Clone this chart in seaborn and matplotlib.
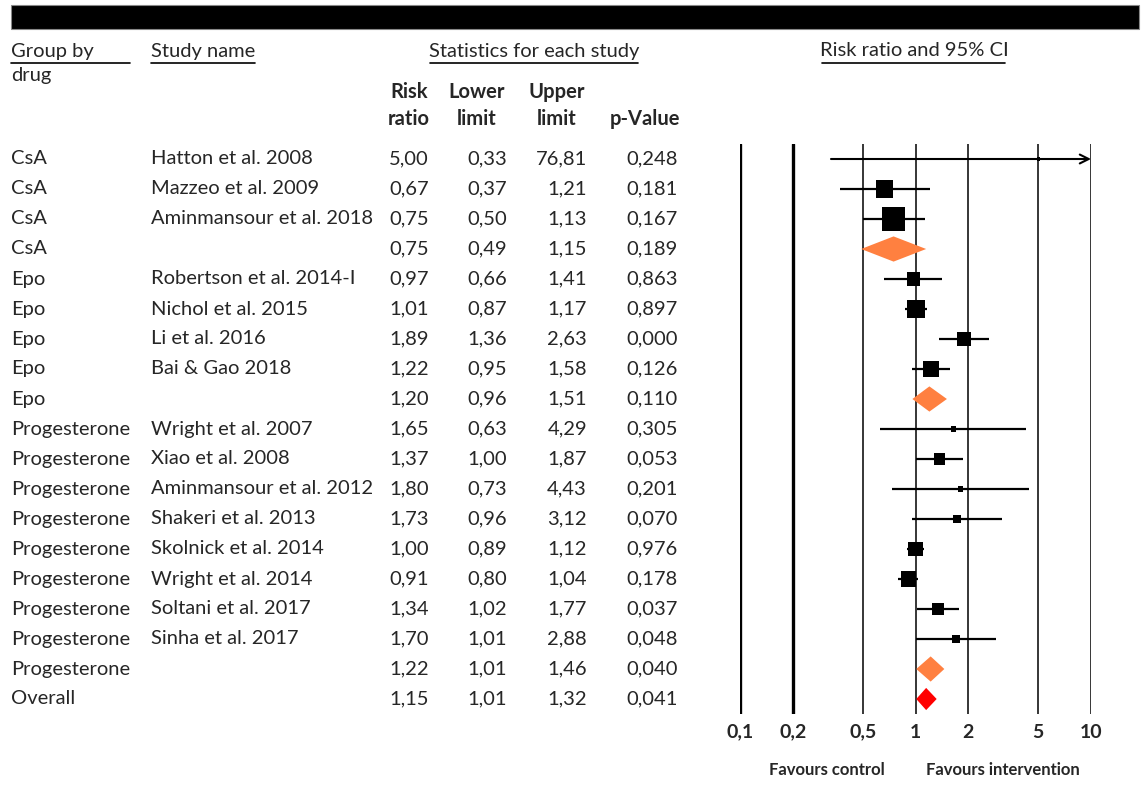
import numpy as np
import pandas as pd
import matplotlib
matplotlib.use("Agg")
import matplotlib.pyplot as plt
from matplotlib.patches import Polygon, Rectangle
from matplotlib.lines import Line2D
import seaborn as sns

# ---- data -------------------------------------------------------------
groups = ["CsA", "CsA", "CsA", "CsA",
          "Epo", "Epo", "Epo", "Epo", "Epo",
          "Progesterone", "Progesterone", "Progesterone", "Progesterone",
          "Progesterone", "Progesterone", "Progesterone", "Progesterone",
          "Progesterone", "Overall"]
studies = ["Hatton et al. 2008", "Mazzeo et al. 2009", "Aminmansour et al. 2018", "",
           "Robertson et al. 2014-I", "Nichol et al. 2015", "Li et al. 2016",
           "Bai & Gao 2018", "",
           "Wright et al. 2007", "Xiao et al. 2008", "Aminmansour et al. 2012",
           "Shakeri et al. 2013", "Skolnick et al. 2014", "Wright et al. 2014",
           "Soltani et al. 2017", "Sinha et al. 2017", "", ""]
risk_ratio = [5.00, 0.67, 0.75, 0.75, 0.97, 1.01, 1.89, 1.22, 1.20,
              1.65, 1.37, 1.80, 1.73, 1.00, 0.91, 1.34, 1.70, 1.22, 1.15]
lower = [0.33, 0.37, 0.50, 0.49, 0.66, 0.87, 1.36, 0.95, 0.96,
         0.63, 1.00, 0.73, 0.96, 0.89, 0.80, 1.02, 1.01, 1.01, 1.01]
upper = [76.81, 1.21, 1.13, 1.15, 1.41, 1.17, 2.63, 1.58, 1.51,
         4.29, 1.87, 4.43, 3.12, 1.12, 1.04, 1.77, 2.88, 1.46, 1.32]
p_value = ["0,248", "0,181", "0,167", "0,189", "0,863", "0,897", "0,000", "0,126", "0,110",
           "0,305", "0,053", "0,201", "0,070", "0,976", "0,178", "0,037", "0,048", "0,040", "0,041"]
# relative study weights (marker area); pooled rows carry none
weight = [0.9, 28.9, 52.9, None, 16.9, 32.4, 19.6, 25.6, None,
          2.5, 12.1, 2.5, 6.4, 19.6, 22.5, 14.4, 6.4, None, None]
row_kind = ["study", "study", "study", "pooled", "study", "study", "study", "study", "pooled",
            "study", "study", "study", "study", "study", "study", "study", "study", "pooled", "overall"]
tick_values = [0.1, 0.2, 0.5, 1, 2, 5, 10]
tick_labels = ["0,1", "0,2", "0,5", "1", "2", "5", "10"]

df = pd.DataFrame({"group": groups, "study": studies, "rr": risk_ratio,
                   "lo": lower, "hi": upper, "p": p_value, "w": weight, "kind": row_kind})
df["row"] = np.arange(len(df))

# ---- figure -----------------------------------------------------------
W, H = 1146, 786
sns.set_theme(style="white")
FONT = ["Lato", "DejaVu Sans"]
plt.rcParams["font.family"] = FONT
fig = plt.figure(figsize=(W / 100, H / 100), dpi=100)
fig.patch.set_facecolor("white")


def fx(px):
    return px / W


def fy(py):
    return 1 - py / H


# forest panel: log axis 0.1..10, one row per line of the table
ROW0, ROWSTEP = 159, 30
n = len(df)
ax_left, ax_right = 740, 1091
ax_top = ROW0 - ROWSTEP / 2
ax_bot = ROW0 + ROWSTEP * (n - 1) + ROWSTEP / 2
ax = fig.add_axes([fx(ax_left), fy(ax_bot), fx(ax_right - ax_left), (ax_bot - ax_top) / H])
ax.set_xscale("log")
ax.set_xlim(0.1, 10)
ax.set_ylim(n - 0.5, -0.5)
for s in ax.spines.values():
    s.set_visible(False)
ax.set_yticks([])
ax.set_xticks(tick_values)
ax.set_xticklabels(tick_labels, fontsize=14, fontweight="bold")
ax.xaxis.set_minor_locator(matplotlib.ticker.NullLocator())
ax.tick_params(axis="x", length=0, pad=7)
ax.set_xlabel("")
ax.set_ylabel("")

for v in tick_values:
    ax.axvline(v, color="black", lw=2.4 if v < 0.5 else 1.1, zorder=1)

# confidence intervals of individual studies
st = df[df["kind"] == "study"]
for _, r in st.iterrows():
    hi = min(r["hi"], 10)
    if r["hi"] > 10:
        ax.annotate("", xy=(10, r["row"]), xytext=(r["lo"], r["row"]),
                    arrowprops=dict(arrowstyle="->", lw=1.5, color="black",
                                    shrinkA=0, shrinkB=0, mutation_scale=16), zorder=3)
    else:
        ax.hlines(r["row"], r["lo"], hi, color="black", lw=1.6, zorder=3)

# point estimates, marker area proportional to weight
k = 5.2
sns.scatterplot(data=st, x="rr", y="row", size="w",
                sizes=(st["w"].min() * k, st["w"].max() * k),
                size_norm=(st["w"].min(), st["w"].max()),
                marker="s", color="black", linewidth=0, legend=False, ax=ax, zorder=4)
ax.set_xlabel("")
ax.set_ylabel("")

# pooled diamonds
for _, r in df[df["kind"] != "study"].iterrows():
    h = 0.42 if r["kind"] == "pooled" else 0.37
    col = "#FF8040" if r["kind"] == "pooled" else "#FF0000"
    y = r["row"]
    ax.add_patch(Polygon([(r["lo"], y), (r["rr"], y - h), (r["hi"], y), (r["rr"], y + h)],
                         closed=True, facecolor=col, edgecolor="none", zorder=4))

# ---- table text -------------------------------------------------------
FS = 14.5
for i, r in df.iterrows():
    y = fy(ROW0 + ROWSTEP * i)
    fig.text(fx(11), y, r["group"], fontsize=FS, va="center", ha="left")
    fig.text(fx(151), y, r["study"], fontsize=FS, va="center", ha="left")
    fig.text(fx(429), y, f"{r['rr']:.2f}".replace(".", ","), fontsize=FS, va="center", ha="right")
    fig.text(fx(507), y, f"{r['lo']:.2f}".replace(".", ","), fontsize=FS, va="center", ha="right")
    fig.text(fx(587), y, f"{r['hi']:.2f}".replace(".", ","), fontsize=FS, va="center", ha="right")
    fig.text(fx(678), y, r["p"], fontsize=FS, va="center", ha="right")

# header
fig.add_artist(Rectangle((fx(11), fy(29)), fx(1128), 24 / H, transform=fig.transFigure,
                         facecolor="black", edgecolor="#888888", lw=0.8))
heads = [("Group by", 11, "left"), ("Study name", 151, "left"),
         ("Statistics for each study", 534, "center"), ("Risk ratio and 95% CI", 914, "center")]
for txt, x, ha in heads:
    fig.text(fx(x), fy(51), txt, fontsize=FS, va="center", ha=ha)
for x0, x1 in [(11, 130), (151, 255), (430, 638), (822, 1005)]:
    fig.add_artist(Line2D([fx(x0), fx(x1)], [fy(63), fy(63)], transform=fig.transFigure,
                          color="black", lw=1.2))
fig.text(fx(11), fy(76), "drug", fontsize=FS, va="center", ha="left")
for txt1, txt2, x in [("Risk", "ratio", 409), ("Lower", "limit", 477),
                      ("Upper", "limit", 557)]:
    fig.text(fx(x), fy(92), txt1, fontsize=FS, va="center", ha="center", fontweight="bold")
    fig.text(fx(x), fy(119), txt2, fontsize=FS, va="center", ha="center", fontweight="bold")
fig.text(fx(645), fy(119), "p-Value", fontsize=FS, va="center", ha="center", fontweight="bold")

fig.text(fx(827), fy(770), "Favours control", fontsize=12, va="center", ha="center", fontweight="bold")
fig.text(fx(1003), fy(770), "Favours intervention", fontsize=12, va="center", ha="center", fontweight="bold")

fig.savefig("out.png", dpi=100, facecolor="white")
